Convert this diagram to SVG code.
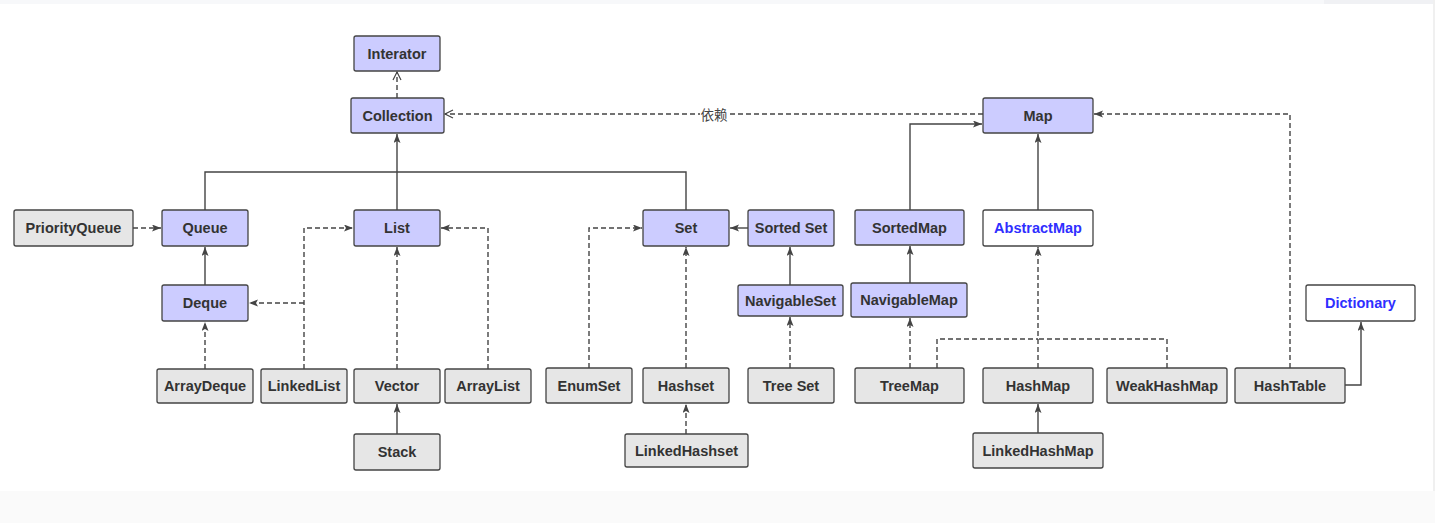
<svg xmlns="http://www.w3.org/2000/svg" width="1435" height="523" viewBox="0 0 1435 523">
<style>
.n rect{stroke:#444;stroke-width:1.3}
.i rect{fill:#ccccff}
.c rect{fill:#e6e6e6}
.a rect{fill:#ffffff}
.n text{font-family:"Liberation Sans",Arial,sans-serif;font-weight:bold;font-size:14.5px;fill:#333;text-anchor:middle;dominant-baseline:central}
.a text{fill:#2f2fff}
.e path{fill:none;stroke:#444;stroke-width:1.4}
.e .d{stroke-dasharray:5,3}
.lbl{font-family:"Noto Sans CJK SC","Liberation Sans",sans-serif;font-size:13.5px;fill:#444;text-anchor:middle;dominant-baseline:central}
</style>
<defs>
<marker id="f" markerUnits="userSpaceOnUse" markerWidth="10" markerHeight="8" refX="9" refY="3.5" orient="auto">
<path d="M0,0 L9,3.5 L0,7 L2,3.5 z" fill="#444"/>
</marker>
<marker id="o" markerUnits="userSpaceOnUse" markerWidth="11" markerHeight="11" refX="9" refY="5" orient="auto">
<path d="M1,1 L9,5 L1,9" fill="none" stroke="#444" stroke-width="1.2"/>
</marker>
</defs>
<rect x="0" y="0" width="1435" height="523" fill="#ffffff"/>
<rect x="0" y="0" width="1435" height="4" fill="#f7f8fa"/>
<rect x="1324" y="0" width="111" height="4" fill="#f0f1f4"/>
<rect x="0" y="491" width="1435" height="32" fill="#fafafa"/>
<rect x="1433" y="0" width="2" height="491" fill="#f0f0f0"/>

<g id="connectors" class="e">
<path class="d" d="M397 98 V72" marker-end="url(#o)"/>
<path d="M397 210 V134" marker-end="url(#f)"/>
<path d="M205 210 V172 H397"/>
<path d="M686 210 V172 H397"/>
<path class="d" d="M133 228 H161" marker-end="url(#f)"/>
<path d="M205 285 V247" marker-end="url(#f)"/>
<path class="d" d="M205 369 V322" marker-end="url(#f)"/>
<path class="d" d="M304 303 H249" marker-end="url(#f)"/>
<path class="d" d="M304 369 V228 H353" marker-end="url(#f)"/>
<path class="d" d="M397 369 V247" marker-end="url(#f)"/>
<path class="d" d="M488 369 V228 H441" marker-end="url(#f)"/>
<path d="M397 434 V404" marker-end="url(#f)"/>
<path class="d" d="M589 368 V228 H642" marker-end="url(#f)"/>
<path class="d" d="M686 368 V247" marker-end="url(#f)"/>
<path class="d" d="M686 434 V404" marker-end="url(#f)"/>
<path d="M748 228 H730" marker-end="url(#f)"/>
<path d="M790 285 V247" marker-end="url(#f)"/>
<path class="d" d="M790 368 V317" marker-end="url(#f)"/>
<path d="M910 210 V124 H982" marker-end="url(#f)"/>
<path d="M910 283 V246" marker-end="url(#f)"/>
<path class="d" d="M910 368 V318" marker-end="url(#f)"/>
<path class="d" d="M937 368 V339 H1038"/>
<path class="d" d="M1167 368 V339 H1038"/>
<path class="d" d="M1038 368 V247" marker-end="url(#f)"/>
<path d="M1038 210 V134" marker-end="url(#f)"/>
<path d="M1038 433 V404" marker-end="url(#f)"/>
<path class="d" d="M1290 368 V114 H1094" marker-end="url(#f)"/>
<path d="M1345 385 H1361 V322" marker-end="url(#f)"/>
<path class="d" d="M983 114 H445" marker-end="url(#o)"/>
<rect x="700" y="106" width="28" height="16" fill="#ffffff"/>
<text class="lbl" x="714" y="114">依赖</text>
</g>

<g id="Interator" class="n i"><rect x="354" y="36" width="86" height="35" rx="2"/><text x="397" y="53.5">Interator</text></g>
<g id="Collection" class="n i"><rect x="351" y="98" width="93" height="35" rx="2"/><text x="397.5" y="115.5">Collection</text></g>
<g id="Map" class="n i"><rect x="983" y="98" width="110" height="35" rx="2"/><text x="1038" y="115.5">Map</text></g>
<g id="PriorityQueue" class="n c"><rect x="14" y="210" width="119" height="36" rx="2"/><text x="73.5" y="228">PriorityQueue</text></g>
<g id="Queue" class="n i"><rect x="162" y="210" width="86" height="36" rx="2"/><text x="205" y="228">Queue</text></g>
<g id="List" class="n i"><rect x="354" y="210" width="86" height="36" rx="2"/><text x="397" y="228">List</text></g>
<g id="Set" class="n i"><rect x="643" y="210" width="86" height="36" rx="2"/><text x="686" y="228">Set</text></g>
<g id="SortedSet" class="n i"><rect x="748" y="210" width="86" height="36" rx="2"/><text x="791" y="228">Sorted Set</text></g>
<g id="SortedMap" class="n i"><rect x="855" y="210" width="109" height="35" rx="2"/><text x="909.5" y="227.5">SortedMap</text></g>
<g id="AbstractMap" class="n a"><rect x="983" y="210" width="110" height="36" rx="2"/><text x="1038" y="228">AbstractMap</text></g>
<g id="Deque" class="n i"><rect x="162" y="285" width="86" height="36" rx="2"/><text x="205" y="303">Deque</text></g>
<g id="NavigableSet" class="n i"><rect x="738" y="285" width="105" height="31" rx="2"/><text x="790.5" y="300.5">NavigableSet</text></g>
<g id="NavigableMap" class="n i"><rect x="851" y="283" width="116" height="34" rx="2"/><text x="909" y="300">NavigableMap</text></g>
<g id="Dictionary" class="n a"><rect x="1306" y="285" width="109" height="36" rx="2"/><text x="1360.5" y="303">Dictionary</text></g>
<g id="ArrayDeque" class="n c"><rect x="157" y="369" width="96" height="34" rx="2"/><text x="205" y="386">ArrayDeque</text></g>
<g id="LinkedList" class="n c"><rect x="261" y="369" width="86" height="34" rx="2"/><text x="304" y="386">LinkedList</text></g>
<g id="Vector" class="n c"><rect x="354" y="369" width="86" height="34" rx="2"/><text x="397" y="386">Vector</text></g>
<g id="ArrayList" class="n c"><rect x="445" y="369" width="86" height="34" rx="2"/><text x="488" y="386">ArrayList</text></g>
<g id="EnumSet" class="n c"><rect x="546" y="368" width="86" height="35" rx="2"/><text x="589" y="385.5">EnumSet</text></g>
<g id="Hashset" class="n c"><rect x="643" y="368" width="86" height="35" rx="2"/><text x="686" y="385.5">Hashset</text></g>
<g id="TreeSet" class="n c"><rect x="748" y="368" width="86" height="35" rx="2"/><text x="791" y="385.5">Tree Set</text></g>
<g id="TreeMap" class="n c"><rect x="855" y="368" width="109" height="35" rx="2"/><text x="909.5" y="385.5">TreeMap</text></g>
<g id="HashMap" class="n c"><rect x="983" y="368" width="110" height="35" rx="2"/><text x="1038" y="385.5">HashMap</text></g>
<g id="WeakHashMap" class="n c"><rect x="1107" y="368" width="120" height="35" rx="2"/><text x="1167" y="385.5">WeakHashMap</text></g>
<g id="HashTable" class="n c"><rect x="1235" y="368" width="110" height="35" rx="2"/><text x="1290" y="385.5">HashTable</text></g>
<g id="Stack" class="n c"><rect x="354" y="434" width="86" height="36" rx="2"/><text x="397" y="452">Stack</text></g>
<g id="LinkedHashset" class="n c"><rect x="625" y="434" width="123" height="33" rx="2"/><text x="686.5" y="450.5">LinkedHashset</text></g>
<g id="LinkedHashMap" class="n c"><rect x="973" y="433" width="130" height="35" rx="2"/><text x="1038" y="450.5">LinkedHashMap</text></g>
</svg>
